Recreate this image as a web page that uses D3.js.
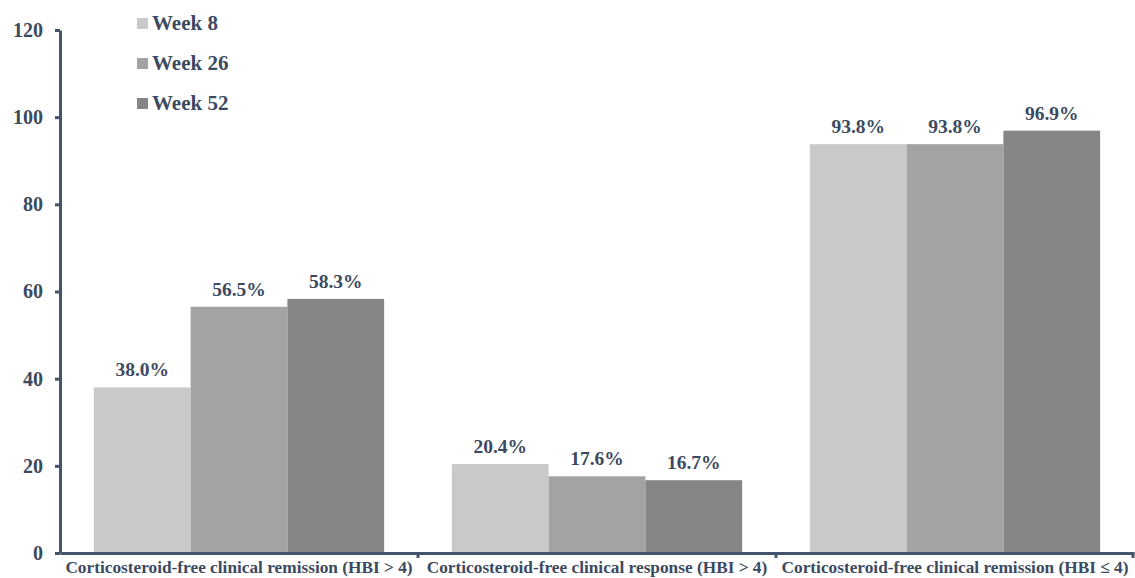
<!DOCTYPE html>
<html>
<head>
<meta charset="utf-8">
<script src="https://cdn.jsdelivr.net/npm/d3@7.9.0/dist/d3.min.js"></script>
<style>
  body { margin: 0; background: #fff; }
  #chart, #chart text { font-family: 'Liberation Serif', serif !important; font-weight: bold; }
</style>
</head>
<body>
<svg id="chart" width="1135" height="578"></svg>
<script>
const categories = [
  'Corticosteroid-free clinical remission (HBI > 4)',
  'Corticosteroid-free clinical response (HBI > 4)',
  'Corticosteroid-free clinical remission (HBI \u2264 4)'
];
const weeks = ['Week 8', 'Week 26', 'Week 52'];
const week8 = [38.0, 20.4, 93.8];
const week26 = [56.5, 17.6, 93.8];
const week52 = [58.3, 16.7, 96.9];
const yTicks = [0, 20, 40, 60, 80, 100, 120];

const series = [week8, week26, week52];
const colors = d3.scaleOrdinal().domain(weeks).range(['#c9c9c9', '#a3a3a3', '#868686']);

const textColor = '#3b4a60';
const axisColor = '#44546a';

const margin = { left: 60, right: 1, top: 30, bottom: 25 };
const width = 1135, height = 578;
const svg = d3.select('#chart');

let x0 = d3.scaleBand()
    .domain(categories)
    .range([margin.left, width - margin.right])
    .paddingInner(0)
    .paddingOuter(0);

let x1 = d3.scaleBand()
    .domain(weeks)
    .range([0, x0.bandwidth()])
    .paddingOuter(0.35)
    .paddingInner(0);

let y = d3.scaleLinear()
    .domain([0, 120])
    .range([height - margin.bottom, margin.top]);

// bars
const groups = svg.selectAll('g.group')
    .data(categories)
    .enter()
    .append('g')
    .attr('class', 'group')
    .attr('transform', d => `translate(${x0(d)},0)`);

groups.selectAll('rect')
    .data((d, i) => weeks.map((w, j) => ({ week: w, value: series[j][i] })))
    .enter()
    .append('rect')
    .attr('x', d => x1(d.week))
    .attr('width', x1.bandwidth())
    .attr('y', d => y(d.value))
    .attr('height', d => y(0) - y(d.value))
    .attr('fill', d => colors(d.week));

groups.selectAll('text.val')
    .data((d, i) => weeks.map((w, j) => ({ week: w, value: series[j][i] })))
    .enter()
    .append('text')
    .attr('class', 'val')
    .attr('x', d => x1(d.week) + x1.bandwidth() / 2)
    .attr('y', d => y(d.value) - 11)
    .attr('text-anchor', 'middle')
    .style('font-size', '19.5px')
    .attr('fill', textColor)
    .text(d => d.value.toFixed(1) + '%');

// y axis
const yAxis = svg.append('g')
    .attr('transform', `translate(${margin.left},0)`)
    .call(d3.axisLeft(y).tickValues(yTicks).tickSize(5).tickSizeOuter(0));
yAxis.select('.domain').attr('stroke', axisColor).attr('stroke-width', 3);
yAxis.selectAll('.tick line').attr('stroke', axisColor).attr('stroke-width', 3);
yAxis.selectAll('.tick text')
    .attr('x', -17)
    .style('font-size', '20px')
    .attr('fill', textColor);

// x axis
const xAxis = svg.append('g')
    .attr('transform', `translate(0,${y(0)})`)
    .call(d3.axisBottom(x0).tickSize(0).tickSizeOuter(0));
xAxis.select('.domain').attr('stroke', axisColor).attr('stroke-width', 3);
xAxis.selectAll('.tick text')
    .attr('dy', 0)
    .attr('y', 20)
    .style('font-size', '17.3px')
    .attr('fill', textColor);

// boundary ticks between groups
svg.selectAll('line.sep')
    .data(categories.slice(1).concat(['end']))
    .enter()
    .append('line')
    .attr('class', 'sep')
    .attr('x1', d => d === 'end' ? width - margin.right - 1 : x0(d))
    .attr('x2', d => d === 'end' ? width - margin.right - 1 : x0(d))
    .attr('y1', y(0))
    .attr('y2', y(0) + 5)
    .attr('stroke', axisColor)
    .attr('stroke-width', 3);

// legend
const legend = svg.append('g')
    .attr('transform', 'translate(137,23)');
const li = legend.selectAll('g')
    .data(weeks)
    .enter()
    .append('g')
    .attr('transform', (d, i) => `translate(0,${i * 40})`);
li.append('rect')
    .attr('x', 0)
    .attr('y', -5)
    .attr('width', 11)
    .attr('height', 11)
    .attr('fill', d => colors(d));
li.append('text')
    .attr('x', 15)
    .attr('y', 7)
    .style('font-size', '21px')
    .attr('fill', textColor)
    .text(d => d);
</script>
</body>
</html>
